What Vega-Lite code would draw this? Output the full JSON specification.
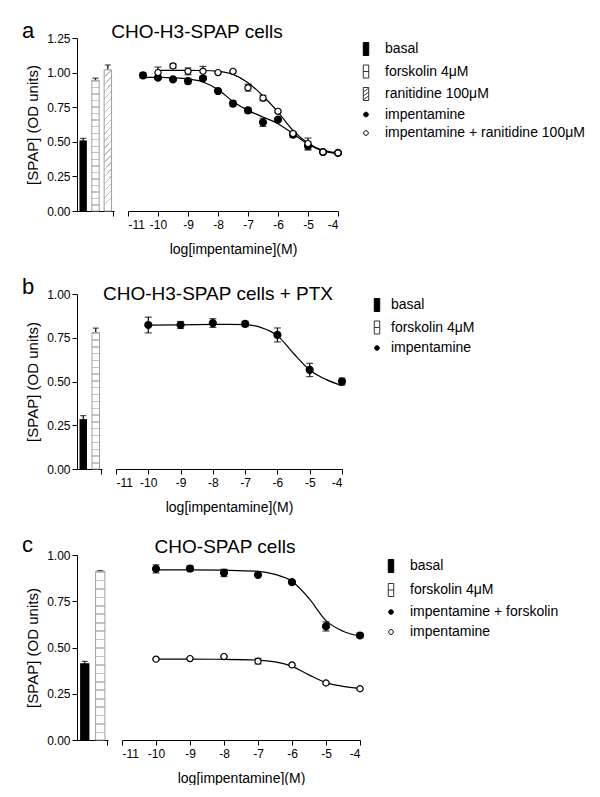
{
"$schema": "https://vega.github.io/schema/vega-lite/v6.json",
"padding": {"left": 22, "top": 20, "right": 0, "bottom": 0},
"config": {
  "font": "Liberation Sans",
  "view": {"stroke": null},
  "axis": {"domainColor": "black", "tickColor": "black", "labelColor": "black", "titleColor": "black", "grid": false, "labelFontSize": 12, "titleFontSize": 15, "titleFontWeight": "normal", "tickSize": 5, "labelFont": "Liberation Sans", "titleFont": "Liberation Sans"},
  "title": {"fontWeight": "normal", "color": "black", "font": "Liberation Sans"},
  "legend": {"labelFontSize": 14, "labelColor": "black", "labelFont": "Liberation Sans", "rowPadding": 4.5, "symbolSize": 169, "symbolStrokeWidth": 1, "labelLimit": 400, "padding": 4}
},
"datasets": {
  "bars": [
    {"p": "a", "b": "basal", "v": 0.51, "e": 0.015},
    {"p": "a", "b": "forskolin", "v": 0.945, "e": 0.015},
    {"p": "a", "b": "ranitidine", "v": 1.02, "e": 0.035},
    {"p": "b", "b": "basal", "v": 0.285, "e": 0.02},
    {"p": "b", "b": "forskolin", "v": 0.78, "e": 0.025},
    {"p": "c", "b": "basal", "v": 0.415, "e": 0.01},
    {"p": "c", "b": "forskolin", "v": 0.912, "e": 0.004}
  ],
  "pts": [
    {"p": "a", "s": "f", "x": -10.5, "y": 0.98, "e": 0.02},
    {"p": "a", "s": "f", "x": -10, "y": 0.963, "e": 0.01},
    {"p": "a", "s": "f", "x": -9.5, "y": 0.951, "e": 0.008},
    {"p": "a", "s": "f", "x": -9, "y": 0.939, "e": 0.02},
    {"p": "a", "s": "f", "x": -8.5, "y": 0.959, "e": 0.01},
    {"p": "a", "s": "f", "x": -8, "y": 0.867, "e": 0.008},
    {"p": "a", "s": "f", "x": -7.5, "y": 0.776, "e": 0.02},
    {"p": "a", "s": "f", "x": -7, "y": 0.727, "e": 0.02},
    {"p": "a", "s": "f", "x": -6.5, "y": 0.641, "e": 0.03},
    {"p": "a", "s": "f", "x": -6, "y": 0.66, "e": 0.008},
    {"p": "a", "s": "f", "x": -5.5, "y": 0.552, "e": 0.02},
    {"p": "a", "s": "f", "x": -5, "y": 0.47, "e": 0.03},
    {"p": "a", "s": "f", "x": -4.5, "y": 0.426, "e": 0.008},
    {"p": "a", "s": "f", "x": -4, "y": 0.42, "e": 0.01},
    {"p": "a", "s": "o", "x": -10, "y": 1.0, "e": 0.04},
    {"p": "a", "s": "o", "x": -9.5, "y": 1.048, "e": 0.015},
    {"p": "a", "s": "o", "x": -9, "y": 1.009, "e": 0.025},
    {"p": "a", "s": "o", "x": -8.5, "y": 1.01, "e": 0.035},
    {"p": "a", "s": "o", "x": -8, "y": 1.0, "e": 0.005},
    {"p": "a", "s": "o", "x": -7.5, "y": 1.009, "e": 0.005},
    {"p": "a", "s": "o", "x": -7, "y": 0.891, "e": 0.025},
    {"p": "a", "s": "o", "x": -6.5, "y": 0.816, "e": 0.02},
    {"p": "a", "s": "o", "x": -6, "y": 0.72, "e": 0.008},
    {"p": "a", "s": "o", "x": -5.5, "y": 0.56, "e": 0.01},
    {"p": "a", "s": "o", "x": -5, "y": 0.487, "e": 0.04},
    {"p": "a", "s": "o", "x": -4.5, "y": 0.426, "e": 0.008},
    {"p": "a", "s": "o", "x": -4, "y": 0.42, "e": 0.008},
    {"p": "b", "s": "f", "x": -10, "y": 0.823, "e": 0.045},
    {"p": "b", "s": "f", "x": -9, "y": 0.823, "e": 0.02},
    {"p": "b", "s": "f", "x": -8, "y": 0.834, "e": 0.025},
    {"p": "b", "s": "f", "x": -7, "y": 0.829, "e": 0.015},
    {"p": "b", "s": "f", "x": -6, "y": 0.766, "e": 0.04},
    {"p": "b", "s": "f", "x": -5, "y": 0.566, "e": 0.038},
    {"p": "b", "s": "f", "x": -4, "y": 0.5, "e": 0.02},
    {"p": "c", "s": "f", "x": -10, "y": 0.925, "e": 0.022},
    {"p": "c", "s": "f", "x": -9, "y": 0.927, "e": 0.015},
    {"p": "c", "s": "f", "x": -8, "y": 0.903, "e": 0.02},
    {"p": "c", "s": "f", "x": -7, "y": 0.893, "e": 0.006},
    {"p": "c", "s": "f", "x": -6, "y": 0.853, "e": 0.006},
    {"p": "c", "s": "f", "x": -5, "y": 0.614, "e": 0.025},
    {"p": "c", "s": "f", "x": -4, "y": 0.565, "e": 0.012},
    {"p": "c", "s": "o", "x": -10, "y": 0.437, "e": 0.004},
    {"p": "c", "s": "o", "x": -9, "y": 0.44, "e": 0.004},
    {"p": "c", "s": "o", "x": -8, "y": 0.451, "e": 0.004},
    {"p": "c", "s": "o", "x": -7, "y": 0.426, "e": 0.015},
    {"p": "c", "s": "o", "x": -6, "y": 0.406, "e": 0.004},
    {"p": "c", "s": "o", "x": -5, "y": 0.308, "e": 0.004},
    {"p": "c", "s": "o", "x": -4, "y": 0.277, "e": 0.004}
  ],
  "curves": [
    {"p": "a", "s": "f", "x": -10.5, "y": 0.966},
    {"p": "a", "s": "f", "x": -10, "y": 0.965},
    {"p": "a", "s": "f", "x": -9.5, "y": 0.962},
    {"p": "a", "s": "f", "x": -9, "y": 0.954},
    {"p": "a", "s": "f", "x": -8.5, "y": 0.932},
    {"p": "a", "s": "f", "x": -8, "y": 0.877},
    {"p": "a", "s": "f", "x": -7.5, "y": 0.792},
    {"p": "a", "s": "f", "x": -7, "y": 0.727},
    {"p": "a", "s": "f", "x": -6.5, "y": 0.679},
    {"p": "a", "s": "f", "x": -6, "y": 0.631},
    {"p": "a", "s": "f", "x": -5.5, "y": 0.559},
    {"p": "a", "s": "f", "x": -5, "y": 0.482},
    {"p": "a", "s": "f", "x": -4.5, "y": 0.434},
    {"p": "a", "s": "f", "x": -4, "y": 0.414},
    {"p": "a", "s": "o", "x": -10, "y": 1.016},
    {"p": "a", "s": "o", "x": -9.5, "y": 1.016},
    {"p": "a", "s": "o", "x": -9, "y": 1.016},
    {"p": "a", "s": "o", "x": -8.5, "y": 1.015},
    {"p": "a", "s": "o", "x": -8, "y": 1.009},
    {"p": "a", "s": "o", "x": -7.5, "y": 0.987},
    {"p": "a", "s": "o", "x": -7, "y": 0.927},
    {"p": "a", "s": "o", "x": -6.5, "y": 0.831},
    {"p": "a", "s": "o", "x": -6, "y": 0.715},
    {"p": "a", "s": "o", "x": -5.5, "y": 0.583},
    {"p": "a", "s": "o", "x": -5, "y": 0.491},
    {"p": "a", "s": "o", "x": -4.5, "y": 0.438},
    {"p": "a", "s": "o", "x": -4, "y": 0.421},
    {"p": "b", "s": "f", "x": -10, "y": 0.822},
    {"p": "b", "s": "f", "x": -9, "y": 0.824},
    {"p": "b", "s": "f", "x": -8, "y": 0.826},
    {"p": "b", "s": "f", "x": -7.5, "y": 0.827},
    {"p": "b", "s": "f", "x": -7, "y": 0.825},
    {"p": "b", "s": "f", "x": -6.5, "y": 0.808},
    {"p": "b", "s": "f", "x": -6, "y": 0.762},
    {"p": "b", "s": "f", "x": -5.5, "y": 0.66},
    {"p": "b", "s": "f", "x": -5, "y": 0.566},
    {"p": "b", "s": "f", "x": -4.5, "y": 0.512},
    {"p": "b", "s": "f", "x": -4, "y": 0.476},
    {"p": "c", "s": "f", "x": -10, "y": 0.92},
    {"p": "c", "s": "f", "x": -9, "y": 0.92},
    {"p": "c", "s": "f", "x": -8, "y": 0.918},
    {"p": "c", "s": "f", "x": -7, "y": 0.912},
    {"p": "c", "s": "f", "x": -6.5, "y": 0.895},
    {"p": "c", "s": "f", "x": -6, "y": 0.858},
    {"p": "c", "s": "f", "x": -5.5, "y": 0.765},
    {"p": "c", "s": "f", "x": -5, "y": 0.645},
    {"p": "c", "s": "f", "x": -4.5, "y": 0.588},
    {"p": "c", "s": "f", "x": -4, "y": 0.562},
    {"p": "c", "s": "o", "x": -10, "y": 0.437},
    {"p": "c", "s": "o", "x": -9, "y": 0.437},
    {"p": "c", "s": "o", "x": -8, "y": 0.436},
    {"p": "c", "s": "o", "x": -7, "y": 0.432},
    {"p": "c", "s": "o", "x": -6.5, "y": 0.422},
    {"p": "c", "s": "o", "x": -6, "y": 0.398},
    {"p": "c", "s": "o", "x": -5.5, "y": 0.352},
    {"p": "c", "s": "o", "x": -5, "y": 0.31},
    {"p": "c", "s": "o", "x": -4.5, "y": 0.29},
    {"p": "c", "s": "o", "x": -4, "y": 0.278}
  ],
  "leg": [
    {"p": "a", "lab": "basal"},
    {"p": "a", "lab": "forskolin 4μM"},
    {"p": "a", "lab": "ranitidine 100μM"},
    {"p": "a", "lab": "impentamine"},
    {"p": "a", "lab": "impentamine + ranitidine 100μM"},
    {"p": "b", "lab": "basal"},
    {"p": "b", "lab": "forskolin 4μM"},
    {"p": "b", "lab": "impentamine"},
    {"p": "c", "lab": "basal"},
    {"p": "c", "lab": "forskolin 4μM"},
    {"p": "c", "lab": "impentamine + forskolin"},
    {"p": "c", "lab": "impentamine"}
  ]
},
"vconcat": [
  {
    "hconcat": [
      {
        "width": 37, "height": 173,
        "title": {"text": "a", "anchor": "start", "frame": "group", "dx": -55, "fontSize": 22, "baseline": "middle", "offset": -21},
        "data": {"name": "bars"},
        "transform": [{"filter": "datum.p == 'a'"}],
        "encoding": {
          "x": {"field": "b", "type": "nominal", "scale": {"domain": ["basal", "forskolin", "ranitidine"], "paddingInner": 0.4, "paddingOuter": 0.2}, "axis": {"title": null, "labels": false, "values": ["ranitidine"], "bandPosition": 1.33}},
          "y": {"field": "v", "type": "quantitative", "scale": {"domain": [0, 1.25], "nice": false}, "axis": {"title": "[SPAP] (OD units)", "values": [0, 0.25, 0.5, 0.75, 1, 1.25], "format": ".2f", "labelPadding": 2, "titlePadding": 6}}
        },
        "layer": [
          {"mark": {"type": "errorbar", "color": "black", "ticks": {"size": 6}, "thickness": 1.2}, "encoding": {"yError": {"field": "e"}}},
          {"transform": [{"filter": "datum.b == 'basal'"}], "mark": {"type": "bar", "fill": "black"}},
          {"transform": [{"filter": "datum.b == 'forskolin'"}], "mark": {"type": "bar", "stroke": "#a0a0a0", "strokeWidth": 1, "fill": {"gradient": "linear", "x1": 0, "y1": 0, "x2": 0, "y2": 1, "stops": [
{"offset":0,"color":"#c4c4c4"},{"offset":0.01,"color":"#c4c4c4"},{"offset":0.01,"color":"#fff"},{"offset":0.05,"color":"#fff"},
{"offset":0.05,"color":"#c4c4c4"},{"offset":0.06,"color":"#c4c4c4"},{"offset":0.06,"color":"#fff"},{"offset":0.1,"color":"#fff"},
{"offset":0.1,"color":"#c4c4c4"},{"offset":0.11,"color":"#c4c4c4"},{"offset":0.11,"color":"#fff"},{"offset":0.15,"color":"#fff"},
{"offset":0.15,"color":"#c4c4c4"},{"offset":0.16,"color":"#c4c4c4"},{"offset":0.16,"color":"#fff"},{"offset":0.2,"color":"#fff"},
{"offset":0.2,"color":"#c4c4c4"},{"offset":0.21,"color":"#c4c4c4"},{"offset":0.21,"color":"#fff"},{"offset":0.25,"color":"#fff"},
{"offset":0.25,"color":"#c4c4c4"},{"offset":0.26,"color":"#c4c4c4"},{"offset":0.26,"color":"#fff"},{"offset":0.3,"color":"#fff"},
{"offset":0.3,"color":"#c4c4c4"},{"offset":0.31,"color":"#c4c4c4"},{"offset":0.31,"color":"#fff"},{"offset":0.35,"color":"#fff"},
{"offset":0.35,"color":"#c4c4c4"},{"offset":0.36,"color":"#c4c4c4"},{"offset":0.36,"color":"#fff"},{"offset":0.4,"color":"#fff"},
{"offset":0.4,"color":"#c4c4c4"},{"offset":0.41,"color":"#c4c4c4"},{"offset":0.41,"color":"#fff"},{"offset":0.45,"color":"#fff"},
{"offset":0.45,"color":"#c4c4c4"},{"offset":0.46,"color":"#c4c4c4"},{"offset":0.46,"color":"#fff"},{"offset":0.5,"color":"#fff"},
{"offset":0.5,"color":"#c4c4c4"},{"offset":0.51,"color":"#c4c4c4"},{"offset":0.51,"color":"#fff"},{"offset":0.55,"color":"#fff"},
{"offset":0.55,"color":"#c4c4c4"},{"offset":0.56,"color":"#c4c4c4"},{"offset":0.56,"color":"#fff"},{"offset":0.6,"color":"#fff"},
{"offset":0.6,"color":"#c4c4c4"},{"offset":0.61,"color":"#c4c4c4"},{"offset":0.61,"color":"#fff"},{"offset":0.65,"color":"#fff"},
{"offset":0.65,"color":"#c4c4c4"},{"offset":0.66,"color":"#c4c4c4"},{"offset":0.66,"color":"#fff"},{"offset":0.7,"color":"#fff"},
{"offset":0.7,"color":"#c4c4c4"},{"offset":0.71,"color":"#c4c4c4"},{"offset":0.71,"color":"#fff"},{"offset":0.75,"color":"#fff"},
{"offset":0.75,"color":"#c4c4c4"},{"offset":0.76,"color":"#c4c4c4"},{"offset":0.76,"color":"#fff"},{"offset":0.8,"color":"#fff"},
{"offset":0.8,"color":"#c4c4c4"},{"offset":0.81,"color":"#c4c4c4"},{"offset":0.81,"color":"#fff"},{"offset":0.85,"color":"#fff"},
{"offset":0.85,"color":"#c4c4c4"},{"offset":0.86,"color":"#c4c4c4"},{"offset":0.86,"color":"#fff"},{"offset":0.9,"color":"#fff"},
{"offset":0.9,"color":"#c4c4c4"},{"offset":0.91,"color":"#c4c4c4"},{"offset":0.91,"color":"#fff"},{"offset":0.95,"color":"#fff"},
{"offset":0.95,"color":"#c4c4c4"},{"offset":0.96,"color":"#c4c4c4"},{"offset":0.96,"color":"#fff"},{"offset":1,"color":"#fff"}]}}},
          {"transform": [{"filter": "datum.b == 'ranitidine'"}], "mark": {"type": "bar", "stroke": "#a0a0a0", "strokeWidth": 1, "fill": {"gradient": "linear", "x1": 0, "y1": 0, "x2": 0.055, "y2": 1, "stops": [
{"offset":0,"color":"#c4c4c4"},{"offset":0.01,"color":"#c4c4c4"},{"offset":0.01,"color":"#fff"},{"offset":0.05,"color":"#fff"},
{"offset":0.05,"color":"#c4c4c4"},{"offset":0.06,"color":"#c4c4c4"},{"offset":0.06,"color":"#fff"},{"offset":0.1,"color":"#fff"},
{"offset":0.1,"color":"#c4c4c4"},{"offset":0.11,"color":"#c4c4c4"},{"offset":0.11,"color":"#fff"},{"offset":0.15,"color":"#fff"},
{"offset":0.15,"color":"#c4c4c4"},{"offset":0.16,"color":"#c4c4c4"},{"offset":0.16,"color":"#fff"},{"offset":0.2,"color":"#fff"},
{"offset":0.2,"color":"#c4c4c4"},{"offset":0.21,"color":"#c4c4c4"},{"offset":0.21,"color":"#fff"},{"offset":0.25,"color":"#fff"},
{"offset":0.25,"color":"#c4c4c4"},{"offset":0.26,"color":"#c4c4c4"},{"offset":0.26,"color":"#fff"},{"offset":0.3,"color":"#fff"},
{"offset":0.3,"color":"#c4c4c4"},{"offset":0.31,"color":"#c4c4c4"},{"offset":0.31,"color":"#fff"},{"offset":0.35,"color":"#fff"},
{"offset":0.35,"color":"#c4c4c4"},{"offset":0.36,"color":"#c4c4c4"},{"offset":0.36,"color":"#fff"},{"offset":0.4,"color":"#fff"},
{"offset":0.4,"color":"#c4c4c4"},{"offset":0.41,"color":"#c4c4c4"},{"offset":0.41,"color":"#fff"},{"offset":0.45,"color":"#fff"},
{"offset":0.45,"color":"#c4c4c4"},{"offset":0.46,"color":"#c4c4c4"},{"offset":0.46,"color":"#fff"},{"offset":0.5,"color":"#fff"},
{"offset":0.5,"color":"#c4c4c4"},{"offset":0.51,"color":"#c4c4c4"},{"offset":0.51,"color":"#fff"},{"offset":0.55,"color":"#fff"},
{"offset":0.55,"color":"#c4c4c4"},{"offset":0.56,"color":"#c4c4c4"},{"offset":0.56,"color":"#fff"},{"offset":0.6,"color":"#fff"},
{"offset":0.6,"color":"#c4c4c4"},{"offset":0.61,"color":"#c4c4c4"},{"offset":0.61,"color":"#fff"},{"offset":0.65,"color":"#fff"},
{"offset":0.65,"color":"#c4c4c4"},{"offset":0.66,"color":"#c4c4c4"},{"offset":0.66,"color":"#fff"},{"offset":0.7,"color":"#fff"},
{"offset":0.7,"color":"#c4c4c4"},{"offset":0.71,"color":"#c4c4c4"},{"offset":0.71,"color":"#fff"},{"offset":0.75,"color":"#fff"},
{"offset":0.75,"color":"#c4c4c4"},{"offset":0.76,"color":"#c4c4c4"},{"offset":0.76,"color":"#fff"},{"offset":0.8,"color":"#fff"},
{"offset":0.8,"color":"#c4c4c4"},{"offset":0.81,"color":"#c4c4c4"},{"offset":0.81,"color":"#fff"},{"offset":0.85,"color":"#fff"},
{"offset":0.85,"color":"#c4c4c4"},{"offset":0.86,"color":"#c4c4c4"},{"offset":0.86,"color":"#fff"},{"offset":0.9,"color":"#fff"},
{"offset":0.9,"color":"#c4c4c4"},{"offset":0.91,"color":"#c4c4c4"},{"offset":0.91,"color":"#fff"},{"offset":0.95,"color":"#fff"},
{"offset":0.95,"color":"#c4c4c4"},{"offset":0.96,"color":"#c4c4c4"},{"offset":0.96,"color":"#fff"},{"offset":1,"color":"#fff"}]}}}
        ]
      },
      {
        "width": 210, "height": 173,
        "title": {"text": "CHO-H3-SPAP cells", "fontSize": 19, "anchor": "middle", "frame": "group", "dx": -36, "baseline": "middle", "offset": -13},
        "encoding": {
          "x": {"field": "x", "type": "quantitative", "scale": {"domain": [-11, -4], "nice": false, "zero": false}, "axis": {"title": "log[impentamine](M)", "values": [-11, -10, -9, -8, -7, -6, -5, -4], "labelExpr": "'' + datum.value", "labelPadding": 3, "titlePadding": 12, "titleFontSize": 14}},
          "y": {"field": "y", "type": "quantitative", "scale": {"domain": [0, 1.25], "nice": false}, "axis": null}
        },
        "layer": [
          {"data": {"name": "curves"}, "transform": [{"filter": "datum.p == 'a'"}], "mark": {"type": "line", "color": "black", "strokeWidth": 1.2, "interpolate": "monotone"}, "encoding": {"detail": {"field": "s"}}},
          {"data": {"name": "pts"}, "transform": [{"filter": "datum.p == 'a'"}], "mark": {"type": "errorbar", "color": "black", "ticks": {"size": 7}, "thickness": 1.2}, "encoding": {"yError": {"field": "e"}}},
          {"data": {"name": "pts"}, "transform": [{"filter": "datum.p == 'a' && datum.s == 'f'"}], "mark": {"type": "point", "filled": true, "fill": "black", "stroke": "black", "size": 38, "opacity": 1}},
          {"data": {"name": "pts"}, "transform": [{"filter": "datum.p == 'a' && datum.s == 'o'"}], "mark": {"type": "point", "filled": true, "fill": "white", "stroke": "black", "strokeWidth": 1.2, "size": 38, "opacity": 1}},
          {"data": {"name": "leg"}, "transform": [{"filter": "datum.p == 'a'"}], "mark": {"type": "point", "filled": true, "strokeWidth": 1, "opacity": 1},
           "encoding": {
             "shape": {"field": "lab", "type": "nominal", "scale": {"domain": ["basal", "forskolin 4μM", "ranitidine 100μM", "impentamine", "impentamine + ranitidine 100μM"], "range": ["M-0.42,-1H0.42V1H-0.42Z", "M-0.42,-1H0.42V1H-0.42Z M-0.42,0H0.42", "M-0.42,-1H0.42V1H-0.42Z M-0.42,-0.3L0.42,-0.9 M-0.42,0.3L0.42,-0.3 M-0.42,0.9L0.42,0.3", "M-0.36,0A0.36,0.36,0,1,1,0.36,0A0.36,0.36,0,1,1,-0.36,0Z", "M-0.36,0A0.36,0.36,0,1,1,0.36,0A0.36,0.36,0,1,1,-0.36,0Z"]}, "legend": {"title": null, "offset": 14, "labelOffset": 12}},
             "fill": {"field": "lab", "type": "nominal", "scale": {"domain": ["basal", "forskolin 4μM", "ranitidine 100μM", "impentamine", "impentamine + ranitidine 100μM"], "range": ["black", "white", "white", "black", "white"]}, "legend": {"title": null, "offset": 14, "labelOffset": 12}},
             "stroke": {"field": "lab", "type": "nominal", "scale": {"domain": ["basal", "forskolin 4μM", "ranitidine 100μM", "impentamine", "impentamine + ranitidine 100μM"], "range": ["black", "#333", "#333", "black", "black"]}, "legend": {"title": null, "offset": 14, "labelOffset": 12}}
           }}
        ]
      }
    ],
    "spacing": 14, "bounds": "flush",
    "resolve": {"scale": {"shape": "independent", "fill": "independent", "stroke": "independent"}, "legend": {"shape": "independent", "fill": "independent", "stroke": "independent"}}
  },
  {
    "hconcat": [
      {
        "width": 25, "height": 175,
        "title": {"text": "b", "anchor": "start", "frame": "group", "dx": -55, "fontSize": 22, "baseline": "middle", "offset": -21},
        "data": {"name": "bars"},
        "transform": [{"filter": "datum.p == 'b'"}],
        "encoding": {
          "x": {"field": "b", "type": "nominal", "scale": {"domain": ["basal", "forskolin"], "paddingInner": 0.4, "paddingOuter": 0.2}, "axis": {"title": null, "labels": false, "values": ["forskolin"], "bandPosition": 1.33}},
          "y": {"field": "v", "type": "quantitative", "scale": {"domain": [0, 1], "nice": false}, "axis": {"title": "[SPAP] (OD units)", "values": [0, 0.25, 0.5, 0.75, 1], "format": ".2f", "labelPadding": 2, "titlePadding": 6}}
        },
        "layer": [
          {"mark": {"type": "errorbar", "color": "black", "ticks": {"size": 6}, "thickness": 1.2}, "encoding": {"yError": {"field": "e"}}},
          {"transform": [{"filter": "datum.b == 'basal'"}], "mark": {"type": "bar", "fill": "black"}},
          {"transform": [{"filter": "datum.b == 'forskolin'"}], "mark": {"type": "bar", "stroke": "#a0a0a0", "strokeWidth": 1, "fill": {"gradient": "linear", "x1": 0, "y1": 0, "x2": 0, "y2": 1, "stops": [
{"offset":0,"color":"#c4c4c4"},{"offset":0.01,"color":"#c4c4c4"},{"offset":0.01,"color":"#fff"},{"offset":0.05,"color":"#fff"},
{"offset":0.05,"color":"#c4c4c4"},{"offset":0.06,"color":"#c4c4c4"},{"offset":0.06,"color":"#fff"},{"offset":0.1,"color":"#fff"},
{"offset":0.1,"color":"#c4c4c4"},{"offset":0.11,"color":"#c4c4c4"},{"offset":0.11,"color":"#fff"},{"offset":0.15,"color":"#fff"},
{"offset":0.15,"color":"#c4c4c4"},{"offset":0.16,"color":"#c4c4c4"},{"offset":0.16,"color":"#fff"},{"offset":0.2,"color":"#fff"},
{"offset":0.2,"color":"#c4c4c4"},{"offset":0.21,"color":"#c4c4c4"},{"offset":0.21,"color":"#fff"},{"offset":0.25,"color":"#fff"},
{"offset":0.25,"color":"#c4c4c4"},{"offset":0.26,"color":"#c4c4c4"},{"offset":0.26,"color":"#fff"},{"offset":0.3,"color":"#fff"},
{"offset":0.3,"color":"#c4c4c4"},{"offset":0.31,"color":"#c4c4c4"},{"offset":0.31,"color":"#fff"},{"offset":0.35,"color":"#fff"},
{"offset":0.35,"color":"#c4c4c4"},{"offset":0.36,"color":"#c4c4c4"},{"offset":0.36,"color":"#fff"},{"offset":0.4,"color":"#fff"},
{"offset":0.4,"color":"#c4c4c4"},{"offset":0.41,"color":"#c4c4c4"},{"offset":0.41,"color":"#fff"},{"offset":0.45,"color":"#fff"},
{"offset":0.45,"color":"#c4c4c4"},{"offset":0.46,"color":"#c4c4c4"},{"offset":0.46,"color":"#fff"},{"offset":0.5,"color":"#fff"},
{"offset":0.5,"color":"#c4c4c4"},{"offset":0.51,"color":"#c4c4c4"},{"offset":0.51,"color":"#fff"},{"offset":0.55,"color":"#fff"},
{"offset":0.55,"color":"#c4c4c4"},{"offset":0.56,"color":"#c4c4c4"},{"offset":0.56,"color":"#fff"},{"offset":0.6,"color":"#fff"},
{"offset":0.6,"color":"#c4c4c4"},{"offset":0.61,"color":"#c4c4c4"},{"offset":0.61,"color":"#fff"},{"offset":0.65,"color":"#fff"},
{"offset":0.65,"color":"#c4c4c4"},{"offset":0.66,"color":"#c4c4c4"},{"offset":0.66,"color":"#fff"},{"offset":0.7,"color":"#fff"},
{"offset":0.7,"color":"#c4c4c4"},{"offset":0.71,"color":"#c4c4c4"},{"offset":0.71,"color":"#fff"},{"offset":0.75,"color":"#fff"},
{"offset":0.75,"color":"#c4c4c4"},{"offset":0.76,"color":"#c4c4c4"},{"offset":0.76,"color":"#fff"},{"offset":0.8,"color":"#fff"},
{"offset":0.8,"color":"#c4c4c4"},{"offset":0.81,"color":"#c4c4c4"},{"offset":0.81,"color":"#fff"},{"offset":0.85,"color":"#fff"},
{"offset":0.85,"color":"#c4c4c4"},{"offset":0.86,"color":"#c4c4c4"},{"offset":0.86,"color":"#fff"},{"offset":0.9,"color":"#fff"},
{"offset":0.9,"color":"#c4c4c4"},{"offset":0.91,"color":"#c4c4c4"},{"offset":0.91,"color":"#fff"},{"offset":0.95,"color":"#fff"},
{"offset":0.95,"color":"#c4c4c4"},{"offset":0.96,"color":"#c4c4c4"},{"offset":0.96,"color":"#fff"},{"offset":1,"color":"#fff"}]}}}
        ]
      },
      {
        "width": 226, "height": 175,
        "title": {"text": "CHO-H3-SPAP cells + PTX", "fontSize": 19, "anchor": "middle", "frame": "group", "dx": -11, "baseline": "middle", "offset": -19},
        "encoding": {
          "x": {"field": "x", "type": "quantitative", "scale": {"domain": [-11, -4], "nice": false, "zero": false}, "axis": {"title": "log[impentamine](M)", "values": [-11, -10, -9, -8, -7, -6, -5, -4], "labelExpr": "'' + datum.value", "labelPadding": 3, "titlePadding": 12, "titleFontSize": 14}},
          "y": {"field": "y", "type": "quantitative", "scale": {"domain": [0, 1], "nice": false}, "axis": null}
        },
        "layer": [
          {"data": {"name": "curves"}, "transform": [{"filter": "datum.p == 'b'"}], "mark": {"type": "line", "color": "black", "strokeWidth": 1.2, "interpolate": "monotone"}, "encoding": {"detail": {"field": "s"}}},
          {"data": {"name": "pts"}, "transform": [{"filter": "datum.p == 'b'"}], "mark": {"type": "errorbar", "color": "black", "ticks": {"size": 7}, "thickness": 1.2}, "encoding": {"yError": {"field": "e"}}},
          {"data": {"name": "pts"}, "transform": [{"filter": "datum.p == 'b' && datum.s == 'f'"}], "mark": {"type": "point", "filled": true, "fill": "black", "stroke": "black", "size": 38, "opacity": 1}},
          {"data": {"name": "leg"}, "transform": [{"filter": "datum.p == 'b'"}], "mark": {"type": "point", "filled": true, "strokeWidth": 1, "opacity": 1},
           "encoding": {
             "shape": {"field": "lab", "type": "nominal", "scale": {"domain": ["basal", "forskolin 4μM", "impentamine"], "range": ["M-0.42,-1H0.42V1H-0.42Z", "M-0.42,-1H0.42V1H-0.42Z M-0.42,0H0.42", "M-0.36,0A0.36,0.36,0,1,1,0.36,0A0.36,0.36,0,1,1,-0.36,0Z"]}, "legend": {"title": null, "offset": 21, "labelOffset": 7}},
             "fill": {"field": "lab", "type": "nominal", "scale": {"domain": ["basal", "forskolin 4μM", "impentamine"], "range": ["black", "white", "black"]}, "legend": {"title": null, "offset": 21, "labelOffset": 7}},
             "stroke": {"field": "lab", "type": "nominal", "scale": {"domain": ["basal", "forskolin 4μM", "impentamine"], "range": ["black", "#333", "black"]}, "legend": {"title": null, "offset": 21, "labelOffset": 7}}
           }}
        ]
      }
    ],
    "spacing": 14, "bounds": "flush",
    "resolve": {"scale": {"shape": "independent", "fill": "independent", "stroke": "independent"}, "legend": {"shape": "independent", "fill": "independent", "stroke": "independent"}}
  },
  {
    "hconcat": [
      {
        "width": 31, "height": 185,
        "title": {"text": "c", "anchor": "start", "frame": "group", "dx": -55, "fontSize": 22, "baseline": "middle", "offset": -18},
        "data": {"name": "bars"},
        "transform": [{"filter": "datum.p == 'c'"}],
        "encoding": {
          "x": {"field": "b", "type": "nominal", "scale": {"domain": ["basal", "forskolin"], "paddingInner": 0.4, "paddingOuter": 0.2}, "axis": {"title": null, "labels": false, "values": ["forskolin"], "bandPosition": 1.33}},
          "y": {"field": "v", "type": "quantitative", "scale": {"domain": [0, 1], "nice": false}, "axis": {"title": "[SPAP] (OD units)", "values": [0, 0.25, 0.5, 0.75, 1], "format": ".2f", "labelPadding": 2, "titlePadding": 6}}
        },
        "layer": [
          {"mark": {"type": "errorbar", "color": "black", "ticks": {"size": 6}, "thickness": 1.2}, "encoding": {"yError": {"field": "e"}}},
          {"transform": [{"filter": "datum.b == 'basal'"}], "mark": {"type": "bar", "fill": "black"}},
          {"transform": [{"filter": "datum.b == 'forskolin'"}], "mark": {"type": "bar", "stroke": "#a0a0a0", "strokeWidth": 1, "fill": {"gradient": "linear", "x1": 0, "y1": 0, "x2": 0, "y2": 1, "stops": [
{"offset":0,"color":"#c4c4c4"},{"offset":0.01,"color":"#c4c4c4"},{"offset":0.01,"color":"#fff"},{"offset":0.05,"color":"#fff"},
{"offset":0.05,"color":"#c4c4c4"},{"offset":0.06,"color":"#c4c4c4"},{"offset":0.06,"color":"#fff"},{"offset":0.1,"color":"#fff"},
{"offset":0.1,"color":"#c4c4c4"},{"offset":0.11,"color":"#c4c4c4"},{"offset":0.11,"color":"#fff"},{"offset":0.15,"color":"#fff"},
{"offset":0.15,"color":"#c4c4c4"},{"offset":0.16,"color":"#c4c4c4"},{"offset":0.16,"color":"#fff"},{"offset":0.2,"color":"#fff"},
{"offset":0.2,"color":"#c4c4c4"},{"offset":0.21,"color":"#c4c4c4"},{"offset":0.21,"color":"#fff"},{"offset":0.25,"color":"#fff"},
{"offset":0.25,"color":"#c4c4c4"},{"offset":0.26,"color":"#c4c4c4"},{"offset":0.26,"color":"#fff"},{"offset":0.3,"color":"#fff"},
{"offset":0.3,"color":"#c4c4c4"},{"offset":0.31,"color":"#c4c4c4"},{"offset":0.31,"color":"#fff"},{"offset":0.35,"color":"#fff"},
{"offset":0.35,"color":"#c4c4c4"},{"offset":0.36,"color":"#c4c4c4"},{"offset":0.36,"color":"#fff"},{"offset":0.4,"color":"#fff"},
{"offset":0.4,"color":"#c4c4c4"},{"offset":0.41,"color":"#c4c4c4"},{"offset":0.41,"color":"#fff"},{"offset":0.45,"color":"#fff"},
{"offset":0.45,"color":"#c4c4c4"},{"offset":0.46,"color":"#c4c4c4"},{"offset":0.46,"color":"#fff"},{"offset":0.5,"color":"#fff"},
{"offset":0.5,"color":"#c4c4c4"},{"offset":0.51,"color":"#c4c4c4"},{"offset":0.51,"color":"#fff"},{"offset":0.55,"color":"#fff"},
{"offset":0.55,"color":"#c4c4c4"},{"offset":0.56,"color":"#c4c4c4"},{"offset":0.56,"color":"#fff"},{"offset":0.6,"color":"#fff"},
{"offset":0.6,"color":"#c4c4c4"},{"offset":0.61,"color":"#c4c4c4"},{"offset":0.61,"color":"#fff"},{"offset":0.65,"color":"#fff"},
{"offset":0.65,"color":"#c4c4c4"},{"offset":0.66,"color":"#c4c4c4"},{"offset":0.66,"color":"#fff"},{"offset":0.7,"color":"#fff"},
{"offset":0.7,"color":"#c4c4c4"},{"offset":0.71,"color":"#c4c4c4"},{"offset":0.71,"color":"#fff"},{"offset":0.75,"color":"#fff"},
{"offset":0.75,"color":"#c4c4c4"},{"offset":0.76,"color":"#c4c4c4"},{"offset":0.76,"color":"#fff"},{"offset":0.8,"color":"#fff"},
{"offset":0.8,"color":"#c4c4c4"},{"offset":0.81,"color":"#c4c4c4"},{"offset":0.81,"color":"#fff"},{"offset":0.85,"color":"#fff"},
{"offset":0.85,"color":"#c4c4c4"},{"offset":0.86,"color":"#c4c4c4"},{"offset":0.86,"color":"#fff"},{"offset":0.9,"color":"#fff"},
{"offset":0.9,"color":"#c4c4c4"},{"offset":0.91,"color":"#c4c4c4"},{"offset":0.91,"color":"#fff"},{"offset":0.95,"color":"#fff"},
{"offset":0.95,"color":"#c4c4c4"},{"offset":0.96,"color":"#c4c4c4"},{"offset":0.96,"color":"#fff"},{"offset":1,"color":"#fff"}]}}}
        ]
      },
      {
        "width": 238, "height": 185,
        "title": {"text": "CHO-SPAP cells", "fontSize": 19, "anchor": "middle", "frame": "group", "dx": -16, "baseline": "middle", "offset": -11},
        "encoding": {
          "x": {"field": "x", "type": "quantitative", "scale": {"domain": [-11, -4], "nice": false, "zero": false}, "axis": {"title": "log[impentamine](M)", "values": [-11, -10, -9, -8, -7, -6, -5, -4], "labelExpr": "'' + datum.value", "labelPadding": 3, "titlePadding": 12, "titleFontSize": 14}},
          "y": {"field": "y", "type": "quantitative", "scale": {"domain": [0, 1], "nice": false}, "axis": null}
        },
        "layer": [
          {"data": {"name": "curves"}, "transform": [{"filter": "datum.p == 'c'"}], "mark": {"type": "line", "color": "black", "strokeWidth": 1.2, "interpolate": "monotone"}, "encoding": {"detail": {"field": "s"}}},
          {"data": {"name": "pts"}, "transform": [{"filter": "datum.p == 'c'"}], "mark": {"type": "errorbar", "color": "black", "ticks": {"size": 7}, "thickness": 1.2}, "encoding": {"yError": {"field": "e"}}},
          {"data": {"name": "pts"}, "transform": [{"filter": "datum.p == 'c' && datum.s == 'f'"}], "mark": {"type": "point", "filled": true, "fill": "black", "stroke": "black", "size": 38, "opacity": 1}},
          {"data": {"name": "pts"}, "transform": [{"filter": "datum.p == 'c' && datum.s == 'o'"}], "mark": {"type": "point", "filled": true, "fill": "white", "stroke": "black", "strokeWidth": 1.2, "size": 38, "opacity": 1}},
          {"data": {"name": "leg"}, "transform": [{"filter": "datum.p == 'c'"}], "mark": {"type": "point", "filled": true, "strokeWidth": 1, "opacity": 1},
           "encoding": {
             "shape": {"field": "lab", "type": "nominal", "scale": {"domain": ["basal", "forskolin 4μM", "impentamine + forskolin", "impentamine"], "range": ["M-0.42,-1H0.42V1H-0.42Z", "M-0.42,-1H0.42V1H-0.42Z M-0.42,0H0.42", "M-0.36,0A0.36,0.36,0,1,1,0.36,0A0.36,0.36,0,1,1,-0.36,0Z", "M-0.36,0A0.36,0.36,0,1,1,0.36,0A0.36,0.36,0,1,1,-0.36,0Z"]}, "legend": {"title": null, "offset": 17, "labelOffset": 12, "rowPadding": 6}},
             "fill": {"field": "lab", "type": "nominal", "scale": {"domain": ["basal", "forskolin 4μM", "impentamine + forskolin", "impentamine"], "range": ["black", "white", "black", "white"]}, "legend": {"title": null, "offset": 17, "labelOffset": 12, "rowPadding": 6}},
             "stroke": {"field": "lab", "type": "nominal", "scale": {"domain": ["basal", "forskolin 4μM", "impentamine + forskolin", "impentamine"], "range": ["black", "#333", "black", "black"]}, "legend": {"title": null, "offset": 17, "labelOffset": 12, "rowPadding": 6}}
           }}
        ]
      }
    ],
    "spacing": 14, "bounds": "flush",
    "resolve": {"scale": {"shape": "independent", "fill": "independent", "stroke": "independent"}, "legend": {"shape": "independent", "fill": "independent", "stroke": "independent"}}
  }
],
"spacing": 20,
"bounds": "full",
"resolve": {"scale": {"shape": "independent", "fill": "independent", "stroke": "independent"}, "legend": {"shape": "independent", "fill": "independent", "stroke": "independent"}}
}
